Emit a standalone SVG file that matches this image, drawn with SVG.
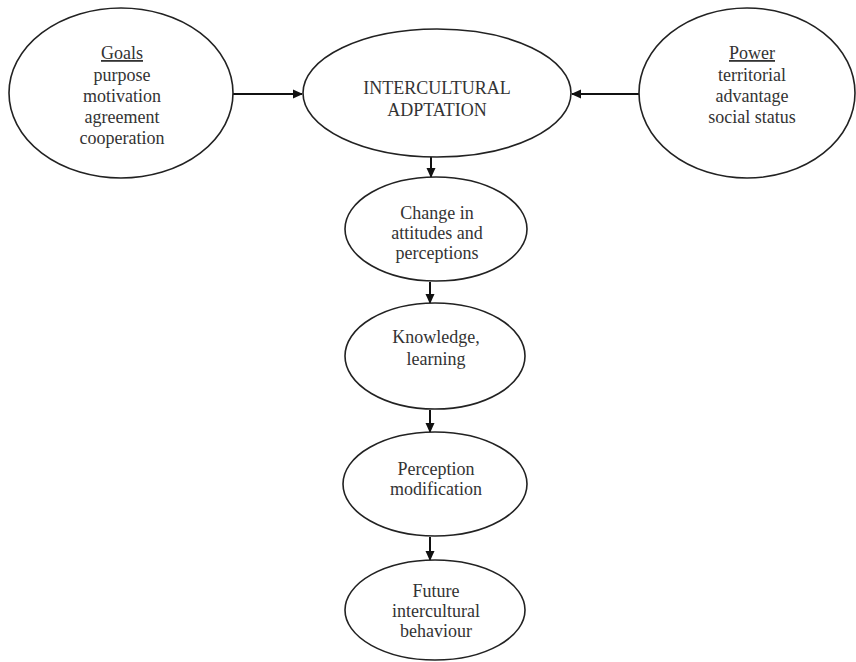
<svg xmlns="http://www.w3.org/2000/svg" width="856" height="662" viewBox="0 0 856 662">
<style>
.n{fill:#fff;stroke:#222;stroke-width:1.6}
.t{font-family:"Liberation Serif","Times New Roman",serif;font-size:18px;fill:#333;text-anchor:middle}
.u{text-decoration:underline}
.c{stroke:#111;stroke-width:2;fill:none}
</style>
<defs>
<marker id="ah" markerWidth="10" markerHeight="10" refX="9" refY="5" orient="auto" markerUnits="userSpaceOnUse">
<path d="M0,0.5 L10,5 L0,9.5 Z" fill="#111"/>
</marker>
</defs>
<rect width="856" height="662" fill="#fff"/>
<g id="connectors">
<line class="c" x1="233" y1="94" x2="302" y2="94" marker-end="url(#ah)"/>
<line class="c" x1="639" y1="94" x2="572" y2="94" marker-end="url(#ah)"/>
<line class="c" x1="431" y1="157" x2="431" y2="177" marker-end="url(#ah)"/>
<line class="c" x1="430" y1="282" x2="430" y2="303" marker-end="url(#ah)"/>
<line class="c" x1="430" y1="410" x2="430" y2="432" marker-end="url(#ah)"/>
<line class="c" x1="430" y1="537" x2="430" y2="560" marker-end="url(#ah)"/>
</g>
<g id="goals">
<ellipse class="n" cx="121" cy="93" rx="112" ry="85"/>
<text class="t" x="122" y="59"><tspan class="u">Goals</tspan></text>
<text class="t" x="122" y="81">purpose</text>
<text class="t" x="122" y="102">motivation</text>
<text class="t" x="122" y="123">agreement</text>
<text class="t" x="122" y="144">cooperation</text>
</g>
<g id="adaptation">
<ellipse class="n" cx="437" cy="93" rx="134" ry="64"/>
<text class="t" x="437" y="94">INTERCULTURAL</text>
<text class="t" x="437" y="116">ADPTATION</text>
</g>
<g id="power">
<ellipse class="n" cx="747" cy="93" rx="108" ry="85"/>
<text class="t" x="752" y="59"><tspan class="u">Power</tspan></text>
<text class="t" x="752" y="81">territorial</text>
<text class="t" x="752" y="102">advantage</text>
<text class="t" x="752" y="123">social status</text>
</g>
<g id="change">
<ellipse class="n" cx="436" cy="229" rx="91" ry="52"/>
<text class="t" x="437" y="219">Change in</text>
<text class="t" x="437" y="239">attitudes and</text>
<text class="t" x="437" y="259">perceptions</text>
</g>
<g id="knowledge">
<ellipse class="n" cx="435" cy="356" rx="90" ry="53"/>
<text class="t" x="436" y="343">Knowledge,</text>
<text class="t" x="436" y="365">learning</text>
</g>
<g id="perception">
<ellipse class="n" cx="435" cy="484" rx="92" ry="52"/>
<text class="t" x="436" y="475">Perception</text>
<text class="t" x="436" y="495">modification</text>
</g>
<g id="future">
<ellipse class="n" cx="435" cy="610" rx="90" ry="50"/>
<text class="t" x="436" y="597">Future</text>
<text class="t" x="436" y="617">intercultural</text>
<text class="t" x="436" y="637">behaviour</text>
</g>
</svg>
